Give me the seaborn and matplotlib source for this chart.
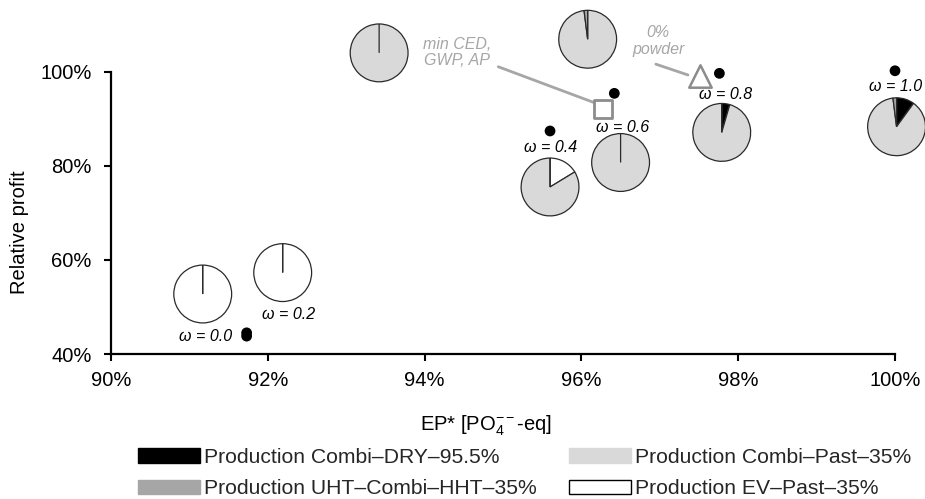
import matplotlib
matplotlib.use("Agg")
import matplotlib.pyplot as plt
import seaborn as sns
import pandas as pd
import numpy as np
from matplotlib.patches import Patch

# ---------------- data ----------------
omega_labels = ["ω = 0.0", "ω = 0.2", "ω = 0.4", "ω = 0.6", "ω = 0.8", "ω = 1.0"]
point_ep = [91.73, 91.73, 95.60, 96.42, 97.76, 100.0]        # EP* [%]
point_profit = [44.5, 43.8, 87.4, 95.4, 99.65, 100.2]          # relative profit [%]

label_ep = [91.20, 92.26, 95.61, 96.52, 97.84, 100.01]
label_profit = [43.8, 48.5, 83.8, 88.1, 95.25, 96.95]

special_names = ["min CED,\nGWP, AP", "0%\npowder"]
special_ep = [96.28, 97.51]
special_profit = [92.0, 99.0]
special_text_ep = [94.41, 96.98]
special_text_profit = [104.1, 106.6]
special_line_start_ep = [94.94, 96.95]
special_line_start_profit = [101.05, 101.6]
special_line_end_ep = [96.20, 97.36]
special_line_end_profit = [93.2, 99.3]

categories = ["Production Combi–DRY–95.5%", "Production EV–Past–35%",
              "Production Combi–Past–35%", "Production UHT–Combi–HHT–35%"]
cat_colors = ["#000000", "#FFFFFF", "#D9D9D9", "#A6A6A6"]

# pie centres (data coords) and shares [DRY, EV-Past, Combi-Past, UHT]
pie_ep = [91.17, 92.19, 93.42, 95.60, 96.50, 97.79, 96.08, 100.02]
pie_profit = [52.75, 57.3, 104.0, 75.5, 80.7, 87.1, 106.9, 88.3]
share_dry = [0.0, 0.0, 0.0, 0.0, 0.0, 0.045, 0.0, 0.10]
share_ev = [1.0, 1.0, 0.0, 0.163, 0.0, 0.0, 0.0, 0.0]
share_past = [0.0, 0.0, 1.0, 0.837, 1.0, 0.955, 0.98, 0.88]
share_uht = [0.0, 0.0, 0.0, 0.0, 0.0, 0.0, 0.02, 0.02]

x_ticks = [90, 92, 94, 96, 98, 100]
y_ticks = [40, 60, 80, 100]

# ---------------- style ----------------
sns.set_theme(style="white")
plt.rcParams["font.family"] = ["Liberation Sans", "DejaVu Sans"]
plt.rcParams["mathtext.fontset"] = "custom"
plt.rcParams["mathtext.rm"] = "Liberation Sans"
plt.rcParams["mathtext.it"] = "Liberation Sans:italic"

W, H = 925, 499
fig = plt.figure(figsize=(W / 100, H / 100), dpi=100)
ax = fig.add_axes([111 / W, 1 - 354 / H, 784 / W, 282.3 / H])

df_pts = pd.DataFrame({"ep": point_ep, "profit": point_profit})
sns.scatterplot(data=df_pts, x="ep", y="profit", color="black", s=60,
                edgecolor="none", ax=ax, clip_on=False, zorder=5)

df_sq = pd.DataFrame({"ep": special_ep[:1], "profit": special_profit[:1]})
sns.scatterplot(data=df_sq, x="ep", y="profit", marker="s", s=150,
                facecolor="white", edgecolor="#8C8C8C", linewidth=2,
                ax=ax, clip_on=False, zorder=6)
df_tri = pd.DataFrame({"ep": special_ep[1:], "profit": special_profit[1:]})
sns.scatterplot(data=df_tri, x="ep", y="profit", marker="^", s=260,
                facecolor="white", edgecolor="#8C8C8C", linewidth=1.8,
                ax=ax, clip_on=False, zorder=6)

for i in range(2):
    ax.plot([special_line_start_ep[i], special_line_end_ep[i]],
            [special_line_start_profit[i], special_line_end_profit[i]],
            color="#A6A6A6", lw=2, clip_on=False, zorder=4)
    ax.text(special_text_ep[i], special_text_profit[i], special_names[i],
            ha="center", va="center", fontsize=11.5, style="italic",
            color="#A6A6A6", linespacing=1.15, clip_on=False)

for t, x, y in zip(omega_labels, label_ep, label_profit):
    ax.text(x, y, t, ha="center", va="center", fontsize=11.5,
            style="italic", color="black", clip_on=False)

ax.set_xlim(90, 100)
ax.set_ylim(40, 100)
ax.set_xticks(x_ticks)
ax.set_xticklabels([f"{v}%" for v in x_ticks])
ax.set_yticks(y_ticks)
ax.set_yticklabels([f"{v}%" for v in y_ticks])
ax.tick_params(axis="both", labelsize=14.5, colors="black", length=5,
               width=1.5, direction="out")
ax.tick_params(axis="x", pad=7, bottom=True)
ax.tick_params(axis="y", pad=9, left=True)
for s in ["top", "right"]:
    ax.spines[s].set_visible(False)
for s in ["left", "bottom"]:
    ax.spines[s].set_color("black")
    ax.spines[s].set_linewidth(1.6)

ax.set_xlabel(r"EP* [PO$_4^{--}$-eq]", fontsize=14.5, color="black")
ax.set_ylabel("Relative profit", fontsize=14.5, color="black")
ax.xaxis.set_label_coords(0.478, -0.212)
ax.yaxis.set_label_coords(-0.104, 0.432)
ax.patch.set_alpha(0)

# ---------------- pies ----------------
r = 29.5
for i in range(len(pie_ep)):
    px, py = ax.transData.transform((pie_ep[i], pie_profit[i]))
    pax = fig.add_axes([(px - r) / W, (py - r) / H, 2 * r / W, 2 * r / H])
    vals = [share_dry[i], share_ev[i], share_past[i], share_uht[i]]
    pax.pie(vals, colors=cat_colors, startangle=90, counterclock=False,
            radius=1.0, normalize=True,
            wedgeprops=dict(edgecolor="#2A2A2A", linewidth=0.9))
    pax.set_xlim(-1.02, 1.02)
    pax.set_ylim(-1.02, 1.02)
    pax.set_aspect("equal")
    pax.axis("off")

# ---------------- legend ----------------
def make_handle(k):
    return Patch(facecolor=cat_colors[k],
                 edgecolor="black" if k == 1 else cat_colors[k],
                 linewidth=1.0, label=categories[k])

# two columns, filled column-wise: DRY, UHT | Combi-Past, EV-Past
col_handles = [make_handle(0), make_handle(3), make_handle(2), make_handle(1)]
fig.legend(handles=col_handles, labels=[h.get_label() for h in col_handles],
           ncol=2, loc="upper left", bbox_to_anchor=(138 / W, 1 - 448 / H),
           frameon=False, fontsize=15.2, handlelength=2.95, handleheight=0.66,
           handletextpad=0.2, columnspacing=1.5, labelspacing=0.58,
           borderpad=0, borderaxespad=0)

fig.savefig("out.png", dpi=100)
